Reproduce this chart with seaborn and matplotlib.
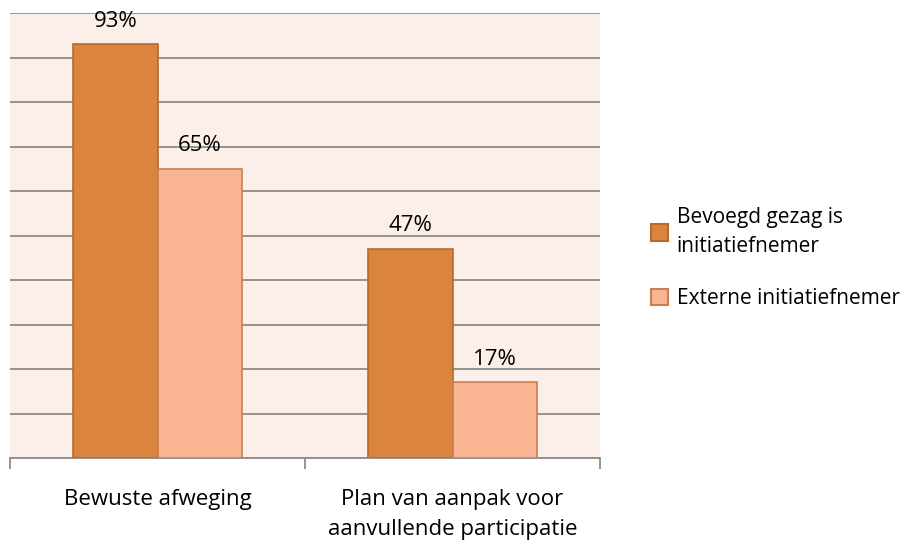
import matplotlib
matplotlib.use('Agg')
import matplotlib.pyplot as plt
import seaborn as sns
import pandas as pd
from matplotlib.patches import Patch

# chart data
categories = ['Bewuste afweging', 'Plan van aanpak voor\naanvullende participatie']
series = ['Bevoegd gezag is\ninitiatiefnemer', 'Externe initiatiefnemer']
values_bevoegd = [0.93, 0.47]
values_extern = [0.65, 0.17]

df = pd.DataFrame({
    'categorie': categories * 2,
    'reeks': [series[0]] * 2 + [series[1]] * 2,
    'waarde': values_bevoegd + values_extern,
})

fill_colors = ['#DA843E', '#F9B592']
edge_colors = ['#B8692E', '#C98050']

sns.set_style('white')
plt.rcParams['font.family'] = ['Open Sans', 'DejaVu Sans']

fig = plt.figure(figsize=(9.1, 5.4), dpi=100)
ax = fig.add_axes([10 / 910, 1 - 458 / 540, 590 / 910, 445 / 540])
ax.set_facecolor('#FCEEE9')

sns.barplot(data=df, x='categorie', y='waarde', hue='reeks',
            palette=fill_colors, width=0.57, ax=ax, legend=False, saturation=1)

for i, container in enumerate(ax.containers):
    for bar in container:
        bar.set_edgecolor(edge_colors[i])
        bar.set_linewidth(1.2)
        bar.set_zorder(3)
    ax.bar_label(container, labels=[f'{v:.0%}' for v in container.datavalues],
                 padding=9, fontsize=16, color='black')

ax.set_ylim(0, 1)
ax.set_xlim(-0.5, 1.5)
ax.set_yticks([i / 10 for i in range(11)])
ax.set_yticklabels([])
ax.tick_params(axis='y', length=0)
ax.yaxis.grid(True, color='#8C8C8C', linewidth=1.3, zorder=0)
ax.set_axisbelow(True)

for s in ['left', 'right', 'top']:
    ax.spines[s].set_visible(False)
ax.spines['bottom'].set_color('#8C8C8C')
ax.spines['bottom'].set_linewidth(1.3)

ax.set_xticks([0, 1])
ax.set_xticklabels(categories, fontsize=16, color='black', linespacing=1.6)
ax.tick_params(axis='x', which='major', length=0, pad=22)
ax.set_xticks([-0.5, 0.5, 1.5], minor=True)
ax.tick_params(axis='x', which='minor', bottom=True, length=8, width=1.3,
               color='#8C8C8C', direction='out')
ax.set_xlabel('')
ax.set_ylabel('')

handles = [Patch(facecolor=fill_colors[i], edgecolor=edge_colors[i], linewidth=1.5)
           for i in range(2)]
leg = fig.legend(handles, series, loc='center left', bbox_to_anchor=(632 / 910, 1 - 258 / 540),
                 frameon=False, fontsize=15, handlelength=0.85, handleheight=0.85,
                 handletextpad=0.4, labelspacing=1.5)
for t in leg.get_texts():
    t.set_linespacing(1.5)
    t.set_color('black')

fig.savefig('out.png', dpi=100, facecolor='white')
